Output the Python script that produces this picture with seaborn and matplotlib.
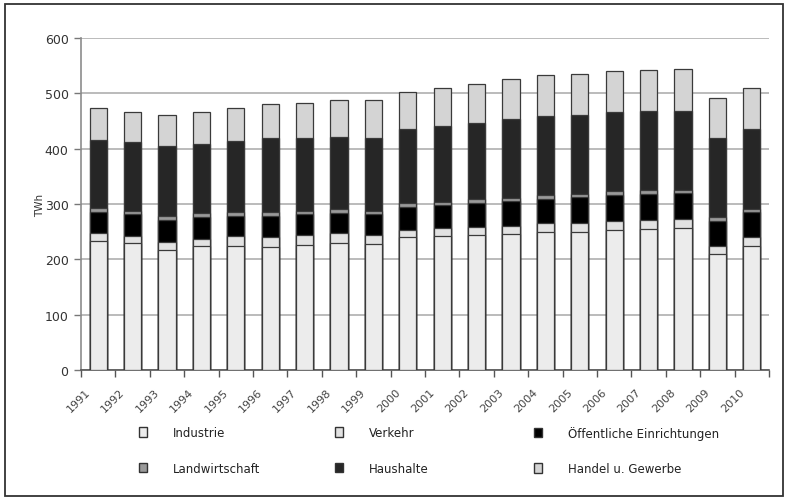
import numpy as np
import matplotlib
matplotlib.use("Agg")
import matplotlib.pyplot as plt
import seaborn as sns
from matplotlib.patches import Patch, Rectangle

# Stromverbrauch nach Sektoren in TWh, 1991-2010
years = [str(y) for y in range(1991, 2011)]
industrie = [232.6, 229.5, 217.5, 223.5, 225.0, 222.0, 226.5, 229.5, 228.0, 241.0,
             242.7, 244.6, 245.8, 248.8, 250.0, 253.0, 254.8, 256.6, 209.7, 224.7]
verkehr = [15.0, 13.0, 13.0, 13.5, 18.0, 18.0, 17.5, 17.5, 16.0, 12.6,
           13.3, 14.4, 14.0, 16.0, 15.0, 15.7, 17.0, 15.7, 15.0, 15.0]
oeffentlich = [37.4, 39.0, 40.0, 40.0, 36.0, 39.0, 38.0, 37.0, 38.0, 41.4,
               42.0, 42.8, 45.3, 44.0, 47.0, 48.0, 46.3, 48.0, 45.3, 45.0]
landwirtschaft = [7.0, 6.0, 8.0, 7.0, 7.0, 6.0, 6.0, 7.0, 6.0, 6.0,
                  6.0, 6.7, 6.4, 7.8, 6.0, 6.6, 7.3, 5.5, 7.0, 6.6]
haushalte = [124.0, 124.0, 126.0, 125.0, 128.0, 134.0, 131.0, 130.7, 132.0, 134.5,
             136.4, 137.3, 141.6, 141.7, 143.0, 143.4, 142.2, 141.5, 141.6, 144.0]
handel = [57.0, 55.0, 56.0, 57.0, 59.0, 62.0, 63.0, 67.0, 68.6, 66.5,
          68.6, 71.7, 73.0, 75.0, 74.0, 73.0, 74.0, 76.0, 72.4, 74.0]

# stacking order from bottom to top
sectors = ["Industrie", "Verkehr", "Öffentliche Einrichtungen",
           "Landwirtschaft", "Haushalte", "Handel u. Gewerbe"]
values = [industrie, verkehr, oeffentlich, landwirtschaft, haushalte, handel]
colors = ["#ececec", "#e2e2e2", "#000000", "#9a9a9a", "#262626", "#d4d4d4"]
EDGE = "#3a3a3a"

sns.set_theme(style="white")
plt.rcParams["font.family"] = ["DejaVu Sans"]

W, H = 788, 502
fig = plt.figure(figsize=(W / 100, H / 100), dpi=100)
ax = fig.add_axes([81 / W, 1 - 371 / H, (769 - 81) / W, (371 - 39) / H])

# stacked bars: draw cumulative totals from the top segment downwards
cum = np.cumsum(np.array(values), axis=0)
for i in reversed(range(len(sectors))):
    sns.barplot(x=years, y=cum[i], color=colors[i], width=0.5, saturation=1,
                edgecolor=EDGE, linewidth=0.9, errorbar=None, ax=ax, zorder=3)

ax.set_xlim(-0.5, len(years) - 0.5)
ax.set_ylim(0, 600)
ax.set_yticks(np.arange(0, 601, 100))
ax.yaxis.grid(True, color="#a8a8a8", linewidth=1.1)
ax.xaxis.grid(False)
ax.set_axisbelow(True)

for side in ("top", "right"):
    ax.spines[side].set_visible(False)
ax.spines["left"].set_color("#8c8c8c")
ax.spines["left"].set_linewidth(1.2)
ax.spines["bottom"].set_color("#555555")
ax.spines["bottom"].set_linewidth(1.2)

ax.tick_params(axis="y", left=True, length=5, width=1, color="#777777",
               labelsize=9, labelcolor="#333333", pad=4)

# year labels slightly left of the bar centres, tick marks at category boundaries
ax.set_xticks(np.arange(len(years)) - 0.17)
ax.set_xticklabels(years, rotation=45, ha="right", fontsize=8, color="#444444")
ax.set_xticks(np.arange(-0.5, len(years)), minor=True)
ax.tick_params(axis="x", which="major", bottom=True, length=0, pad=12)
ax.tick_params(axis="x", which="minor", bottom=True, length=5, width=1, color="#555555")

ax.set_xlabel("")
ax.set_ylabel("TWh", fontsize=7.5, color="#333333")
ax.yaxis.set_label_coords((45 - 81) / 688, 0.5)

# legend in three columns
handles = [Patch(facecolor=c, edgecolor="#333333", linewidth=1.0) for c in colors]
columns = [(139, [0, 3]), (335, [1, 4]), (534, [2, 5])]
for x0, idx in columns:
    leg = fig.legend([handles[i] for i in idx], [sectors[i] for i in idx],
                     loc="center left", bbox_to_anchor=(x0 / W, 1 - 451.5 / H),
                     frameon=False, fontsize=8.5, handlelength=0.7, handleheight=0.85,
                     handletextpad=2.2, labelspacing=1.9, borderpad=0, borderaxespad=0)
    for t in leg.get_texts():
        t.set_color("#222222")

# outer frame
fig.patches.append(Rectangle((5 / W, 5 / H), (783 - 5) / W, (497 - 5) / H,
                             transform=fig.transFigure, fill=False,
                             edgecolor="#333333", linewidth=1.3))

fig.savefig("out.png", dpi=100)
